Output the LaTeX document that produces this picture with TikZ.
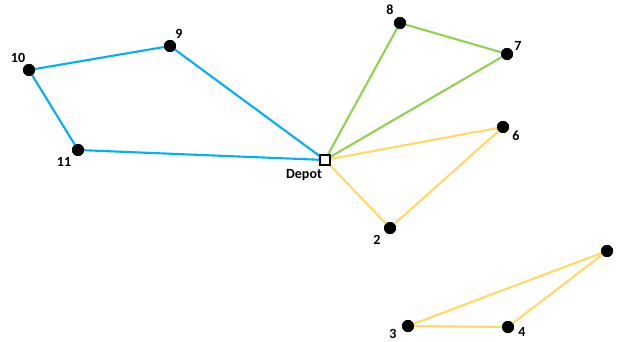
\documentclass[tikz,border=0pt]{standalone}
\usepackage{fontspec}
\setmainfont{Carlito}
\definecolor{rblue}{HTML}{00B0F0}
\definecolor{rgreen}{HTML}{92D050}
\definecolor{ryellow}{HTML}{FFD966}
\begin{document}
\begin{tikzpicture}[x=1pt,y=-1pt,
  pt/.style={circle,fill=black,inner sep=0pt,minimum size=12pt},
  depot/.style={draw=black,line width=1.8pt,fill=white,inner sep=0pt,minimum size=10pt},
  lbl/.style={font=\fontsize{14}{16}\selectfont\bfseries,inner sep=0pt},
  route/.style={line width=2.1pt}]
\useasboundingbox[fill=white] (0,0) rectangle (618,342);
\coordinate (dp) at (325,160);
\node[pt] (n9) at (170,46) {};
\node[pt] (n10) at (29,70) {};
\node[pt] (n11) at (78,150) {};
\node[pt] (n8) at (400,23) {};
\node[pt] (n7) at (507,54) {};
\node[pt] (n6) at (503,127) {};
\node[pt] (n2) at (390,228) {};
\node[pt] (n5) at (607,251) {};
\node[pt] (n3) at (408,326) {};
\node[pt] (n4) at (508,327) {};
\draw[route,rblue] (dp) -- (n9.center) -- (n10.center) -- (n11.center) -- (dp);
\draw[route,rgreen] (dp) -- (n8.center) -- (n7.center) -- (dp);
\draw[route,ryellow] (dp) -- (n6.center) -- (n2.center) -- (dp);
\draw[route,ryellow] (n5.center) -- (n3.center) -- (n4.center) -- (n5.center);
\foreach \n in {9,10,11,8,7,6,2,5,3,4} {\node[pt] at (n\n) {};}
\node[depot] (depot) at (dp) {};
\node[lbl] (l9) at (179,34) {9};
\node[lbl] (l10) at (18,58) {10};
\node[lbl] (l11) at (64,162) {11};
\node[lbl] (l8) at (390,10) {8};
\node[lbl] (l7) at (518,46) {7};
\node[lbl] (l6) at (516,136) {6};
\node[lbl] (l2) at (377,240) {2};
\node[lbl] (l3) at (393,334) {3};
\node[lbl] (l4) at (522,332) {4};
\node[lbl] (ldepot) at (304,175) {Depot};
\end{tikzpicture}
\end{document}
